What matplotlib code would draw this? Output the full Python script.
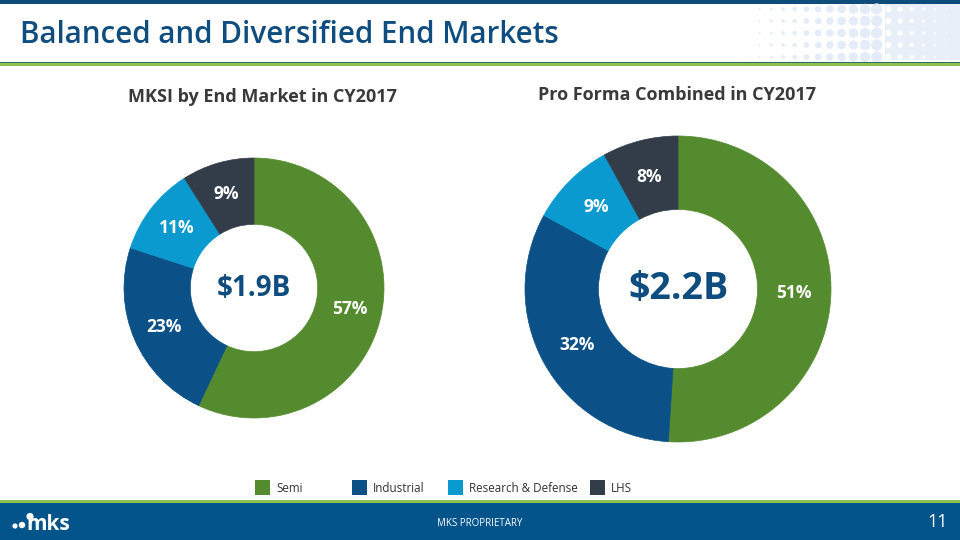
import matplotlib
matplotlib.use("Agg")
import matplotlib.pyplot as plt
from matplotlib.patches import Rectangle, Circle
import numpy as np

plt.rcParams['font.family'] = ['Open Sans', 'DejaVu Sans']

categories = ["Semi", "Industrial", "Research & Defense", "LHS"]
left_values = [57, 23, 11, 9]
right_values = [51, 32, 9, 8]
colors = ["#558B2F", "#0B5087", "#0A9ACF", "#333D4A"]
title = "Balanced and Diversified End Markets"
left_title = "MKSI by End Market in CY2017"
right_title = "Pro Forma Combined in CY2017"
left_center = "$1.9B"
right_center = "$2.2B"

W, H = 960, 540
fig = plt.figure(figsize=(9.6, 5.4), dpi=100)
fig.patch.set_facecolor("white")

bg = fig.add_axes([0, 0, 1, 1])
bg.set_xlim(0, W)
bg.set_ylim(H, 0)
bg.axis("off")

# top band
bg.add_patch(Rectangle((0, 0), W, 4, color="#0E4C7C", lw=0))
# dots pattern top right
bg.add_patch(Rectangle((885, 4), W - 885, 56, color="#E8EFF8", lw=0))
xs = np.arange(748, 960, 11.7)
ys = [9, 21, 33, 45, 57]
for x in xs:
    if x < 885:
        r = 0.4 + (x - 748) / (885 - 748) * 5.6
    else:
        r = max(0.4, 3.2 - (x - 885) / 75 * 3.0)
    for y in ys:
        col = "#E3ECF7" if x < 885 else "#FFFFFF"
        bg.add_patch(Circle((x, y), r, color=col, lw=0))
# title
bg.text(20, 35, title, fontsize=21.3, fontweight="semibold", color="#0F4D80",
        va="center", ha="left")
bg.add_patch(Rectangle((0, 61.5), W, 1.8, color="#2E6B62", lw=0))
bg.add_patch(Rectangle((0, 63.3), W, 2.6, color="#8CC152", lw=0))

# footer
bg.add_patch(Rectangle((0, 500), W, 3, color="#8CC152", lw=0))
bg.add_patch(Rectangle((0, 503), W, 37, color="#03548A", lw=0))
bg.text(480, 523, "MKS PROPRIETARY", fontsize=7, color="white", ha="center", va="center")
bg.text(948, 522, "11", fontsize=13, color="white", ha="right", va="center")
# logo
bg.add_patch(Circle((15, 526), 2.6, color="white", lw=0))
bg.add_patch(Circle((22, 525), 3.2, color="white", lw=0))
bg.add_patch(Circle((30, 516.5), 3.6, color="white", lw=0))
bg.text(26, 524, "mks", fontsize=15, fontweight="bold", color="white", ha="left", va="center")

# subtitles
bg.text(262, 97, left_title, fontsize=13, fontweight="bold", color="#3A3A3A", ha="center", va="center")
bg.text(677, 95, right_title, fontsize=13, fontweight="bold", color="#3A3A3A", ha="center", va="center")

def donut(cx, cy, R, hole, values, center_text, center_fs):
    ax = fig.add_axes([(cx - R) / W, 1 - (cy + R) / H, 2 * R / W, 2 * R / H])
    wedges, texts, autotexts = ax.pie(
        values, colors=colors, startangle=90, counterclock=False, radius=1,
        wedgeprops=dict(width=1 - hole, linewidth=0.5),
        autopct=lambda p: f"{p:.0f}%", pctdistance=0.755,
        textprops=dict(color="white", fontsize=12.5, fontweight="bold"))
    for w in wedges:
        w.set_edgecolor(w.get_facecolor())
    ax.set_xlim(-1, 1)
    ax.set_ylim(-1, 1)
    ax.set_aspect("equal")
    ax.axis("off")
    ax.text(0, 0, center_text, ha="center", va="center", fontsize=center_fs,
            fontweight="bold", color="#0F4D80")
    return ax

donut(254, 288, 130, 0.49, left_values, left_center, 20)
donut(678, 289, 153, 0.52, right_values, right_center, 27)

# legend
leg_x = [255, 352, 448, 590]
for x, c, lab in zip(leg_x, colors, categories):
    bg.add_patch(Rectangle((x, 480), 15, 15, color=c, lw=0))
    bg.text(x + 21, 488, lab, fontsize=8.4, color="#333333", ha="left", va="center")

fig.savefig("out.png", dpi=100)
